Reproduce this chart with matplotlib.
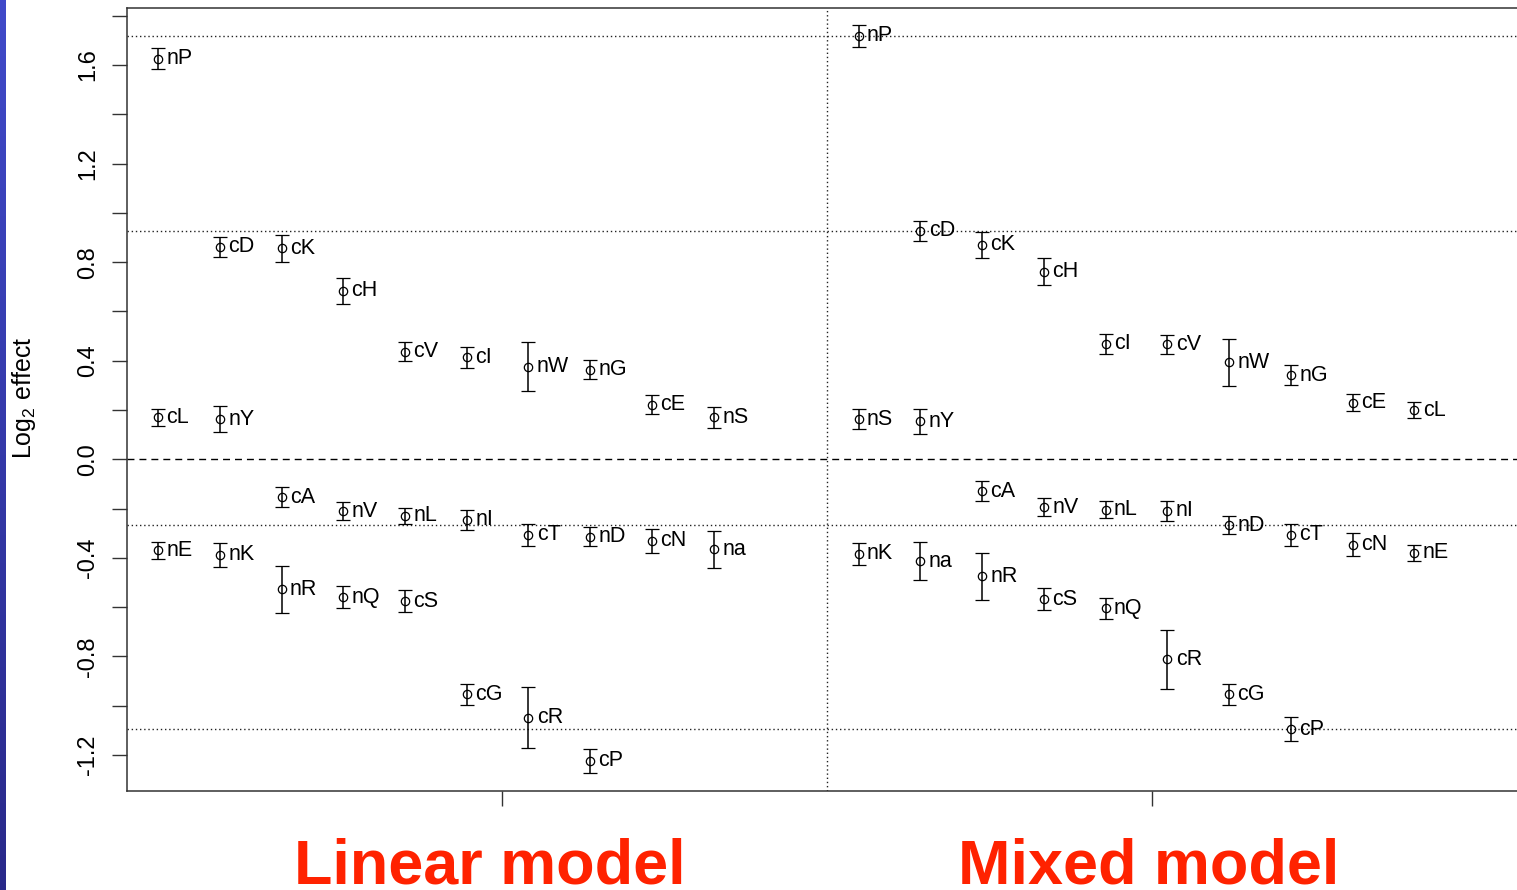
import matplotlib
matplotlib.use("Agg")
import matplotlib.pyplot as plt
import numpy as np

plt.rcParams['font.family'] = ['Liberation Sans', 'DejaVu Sans']
plt.rcParams['mathtext.fontset'] = 'custom'
plt.rcParams['mathtext.rm'] = 'Liberation Sans'

# estimates are listed from largest to smallest; they wrap in rows of ten
linear_labels = ["nP", "cD", "cK", "cH", "cV", "cI", "nW", "nG", "cE", "nS",
                 "cL", "nY", "cA", "nV", "nL", "nI", "cT", "nD", "cN", "na",
                 "nE", "nK", "nR", "nQ", "cS", "cG", "cR", "cP"]
linear_values = [1.626, 0.863, 0.856, 0.683, 0.437, 0.414, 0.376, 0.364, 0.222, 0.170,
                 0.170, 0.163, -0.153, -0.210, -0.230, -0.246, -0.307, -0.314, -0.330, -0.366,
                 -0.369, -0.388, -0.528, -0.559, -0.575, -0.953, -1.049, -1.224]
linear_errors = [0.043, 0.041, 0.054, 0.053, 0.037, 0.043, 0.098, 0.039, 0.037, 0.041,
                 0.035, 0.053, 0.039, 0.036, 0.033, 0.040, 0.046, 0.039, 0.049, 0.077,
                 0.034, 0.047, 0.097, 0.043, 0.043, 0.043, 0.123, 0.048]

mixed_labels = ["nP", "cD", "cK", "cH", "cI", "cV", "nW", "nG", "cE", "cL",
                "nS", "nY", "cA", "nV", "nL", "nI", "nD", "cT", "cN", "nE",
                "nK", "na", "nR", "cS", "nQ", "cR", "cG", "cP"]
mixed_values = [1.718, 0.927, 0.870, 0.761, 0.468, 0.467, 0.394, 0.341, 0.230, 0.200,
                0.162, 0.154, -0.129, -0.194, -0.205, -0.209, -0.267, -0.307, -0.347, -0.380,
                -0.384, -0.413, -0.475, -0.567, -0.604, -0.812, -0.953, -1.095]
mixed_errors = [0.045, 0.041, 0.054, 0.055, 0.041, 0.038, 0.096, 0.041, 0.036, 0.034,
                0.041, 0.051, 0.040, 0.037, 0.035, 0.041, 0.037, 0.043, 0.046, 0.031,
                0.045, 0.078, 0.095, 0.043, 0.043, 0.120, 0.043, 0.048]

# dotted guides run through these mixed-model estimates
guide_labels = ["nP", "cD", "nD", "cP"]

W, H = 1517, 890
fig = plt.figure(figsize=(W / 100, H / 100), dpi=100)
fig.patch.set_facecolor("white")

# slide edge on the left
strip = fig.add_axes([0, 0, 6 / W, 1])
grad = np.linspace(0, 1, 256).reshape(-1, 1)
top_c = np.array([0.25, 0.29, 0.79])
bot_c = np.array([0.16, 0.16, 0.54])
strip.imshow(top_c + grad[..., None] * (bot_c - top_c), aspect="auto",
             extent=[0, 1, 0, 1])
strip.axis("off")

ax = fig.add_axes([127 / W, 99.3 / H, 1390 / W, 782.7 / H])

step = 0.095
panels = [(linear_labels, linear_values, linear_errors, 0.470),
          (mixed_labels, mixed_values, mixed_errors, 1.548)]
for labels, values, errors, x0 in panels:
    xs = x0 + (np.arange(len(values)) % 10) * step
    ax.errorbar(xs, values, yerr=errors, fmt="o", color="black", mfc="none",
                mec="black", ms=6, mew=0.9, elinewidth=1.1, capsize=4.7,
                capthick=1.1, zorder=3)
    for x, y, lab in zip(xs, values, labels):
        ax.annotate(lab, (x, y), xytext=(6, 0), textcoords="offset points",
                    ha="left", va="center", fontsize=15.5, zorder=4)

ax.axhline(0, color="black", lw=1, ls=(0, (5, 3.6)), zorder=1)
for lab in guide_labels:
    ax.axhline(mixed_values[mixed_labels.index(lab)], color="#222222", lw=1,
               ls=(0, (1, 2)), zorder=1)
ax.axvline(1.5, color="#222222", lw=1, ls=(0, (1, 2)), zorder=1)

ax.set_xlim(0.4223, 2.5608)
ax.set_ylim(-1.3448, 1.8314)

ax.set_xticks([1, 2])
ax.set_xticklabels([])
yticks = np.round(np.arange(-6, 10) * 0.2, 1)
ax.set_yticks(yticks)
ax.set_yticklabels([f"{abs(v) if v == 0 else v:.1f}" if k % 2 == 0 else ""
                    for k, v in enumerate(yticks)])
ax.tick_params(axis="both", length=10.8, width=1, color="#333333")
ax.tick_params(axis="y", labelsize=17, labelrotation=90, pad=9.5)
for t in ax.get_yticklabels():
    t.set_va("center")

for side in ["left", "bottom", "top"]:
    ax.spines[side].set_color("#333333")
    ax.spines[side].set_linewidth(1.1)
ax.spines["right"].set_visible(False)

fig.text(24 / W, (H - 398) / H, r"Log$_2$ effect", rotation=90,
         ha="center", va="center", fontsize=18)

fig.text(489.5 / W, 6 / H, "Linear model", ha="center", va="baseline",
         fontsize=45.3, fontweight="bold", color="#ff2200")
fig.text(1148.5 / W, 6 / H, "Mixed model", ha="center", va="baseline",
         fontsize=45.3, fontweight="bold", color="#ff2200")

fig.savefig("out.png", dpi=100)
